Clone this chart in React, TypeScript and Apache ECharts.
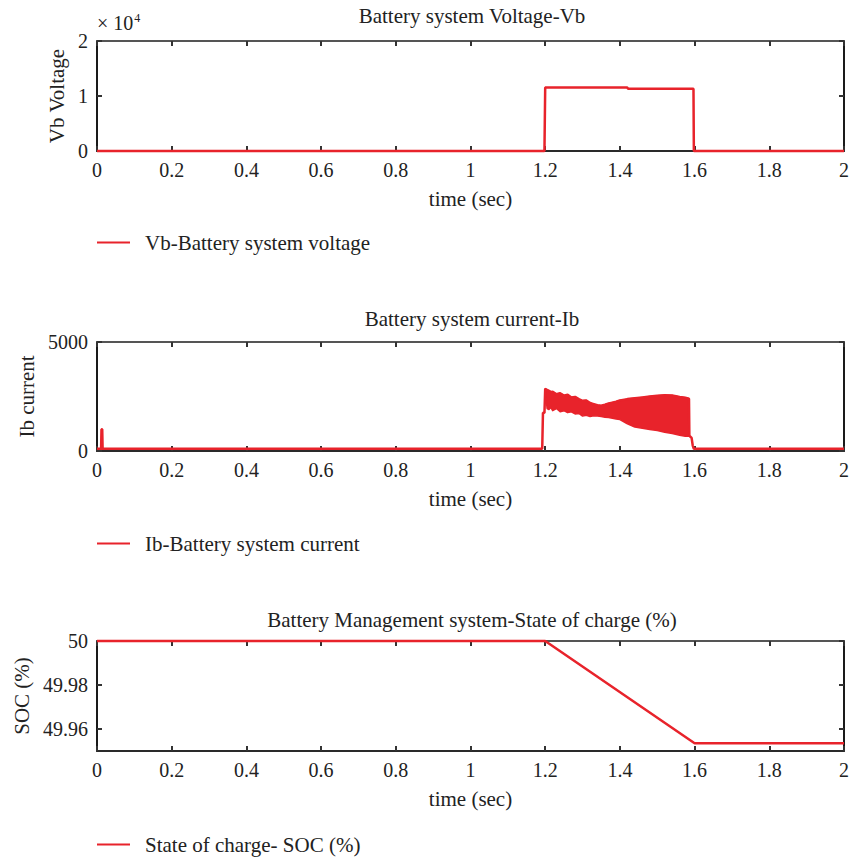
import React, { useEffect, useRef } from "react";
import * as echarts from "echarts";

// ---------- data ----------
const xTicks = [0, 0.2, 0.4, 0.6, 0.8, 1, 1.2, 1.4, 1.6, 1.8, 2];

// Battery system voltage (V)
const vbTime = [0, 1.198, 1.2, 1.42, 1.422, 1.597, 1.598, 2];
const vbValue = [0, 0, 11530, 11530, 11300, 11300, 0, 0];

// Battery system current (A) - outline
const ibPreTime = [0, 0.011, 0.012, 0.014, 0.015, 1.192, 1.194, 1.198, 1.2];
const ibPreValue = [100, 100, 1000, 1000, 100, 100, 1750, 1750, 2850];
const bandTime = [1.2, 1.205, 1.21, 1.215, 1.22, 1.23, 1.24, 1.25, 1.26, 1.27, 1.28, 1.29, 1.3, 1.31, 1.32, 1.33, 1.34, 1.35, 1.36, 1.37, 1.38, 1.39, 1.4, 1.42, 1.44, 1.46, 1.48, 1.5, 1.52, 1.54, 1.56, 1.575, 1.585];
const bandTop = [2850, 2800, 2760, 2700, 2720, 2600, 2650, 2540, 2580, 2450, 2480, 2380, 2300, 2320, 2200, 2150, 2100, 2080, 2120, 2180, 2220, 2260, 2320, 2380, 2420, 2460, 2500, 2530, 2560, 2550, 2480, 2440, 2400];
const bandLow = [2850, 1950, 1900, 2000, 1850, 1950, 1800, 1850, 1760, 1800, 1700, 1720, 1600, 1640, 1580, 1620, 1600, 1580, 1550, 1540, 1500, 1470, 1440, 1250, 1100, 1040, 990, 940, 860, 800, 720, 680, 680];
const ibPostTime = [1.586, 1.592, 1.595, 1.598, 2];
const ibPostValue = [700, 600, 250, 100, 100];

// State of charge (%)
const socTime = [0, 1.2, 1.6, 2];
const socValue = [50, 50, 49.9535, 49.9535];
const socTicks = [49.96, 49.98, 50];

const titles = [
  "Battery system Voltage-Vb",
  "Battery system current-Ib",
  "Battery Management system-State of charge (%)",
];
const legendNames = [
  "Vb-Battery system voltage",
  "Ib-Battery system current",
  "State of charge- SOC (%)",
];

// ---------- style ----------
const RED = "#e8232b";
const FONT = '"Liberation Serif", "DejaVu Serif", serif';
const TXT = "#222";
const PLOT_LEFT = 97;
const PLOT_RIGHT = 5;
const gridTops = [41, 342, 641];
const gridHeights = [110, 109, 110];

const zip = (a: number[], b: number[]) => a.map((v, i) => [v, b[i]]);

function xAxes(gi: number) {
  const common = {
    type: "value",
    gridIndex: gi,
    min: 0,
    max: 2,
    interval: 0.2,
    splitLine: { show: false },
    axisTick: { show: true, inside: true, length: 5, lineStyle: { color: "#333", width: 2 } },
  };
  return [
    {
      ...common,
      position: "bottom",
      name: "time (sec)",
      nameLocation: "middle",
      nameGap: 37,
      nameTextStyle: { fontFamily: FONT, fontSize: 21, color: TXT },
      axisLine: { show: true, onZero: false, lineStyle: { color: "#2a2a2a", width: 2 } },
      axisLabel: {
        fontFamily: FONT,
        fontSize: 20,
        color: TXT,
        margin: 9,
        formatter: (v: number) => String(parseFloat(v.toFixed(1))),
      },
    },
    {
      ...common,
      position: "top",
      axisLine: { show: true, onZero: false, lineStyle: { color: "#555", width: 2 } },
      axisLabel: { show: false },
    },
  ];
}

function yAxes(gi: number, cfg: any) {
  const tick = { show: true, inside: true, length: 5, lineStyle: { color: "#333", width: 2 } };
  const left: any = {
    type: "value",
    gridIndex: gi,
    min: cfg.min,
    max: cfg.max,
    position: "left",
    name: cfg.name,
    nameLocation: "middle",
    nameGap: cfg.nameGap,
    nameTextStyle: { fontFamily: FONT, fontSize: 21, color: TXT },
    splitLine: { show: false },
    axisLine: { show: true, onZero: false, lineStyle: { color: "#1a1a1a", width: 2 } },
    axisTick: { ...tick },
    axisLabel: { fontFamily: FONT, fontSize: 20, color: TXT, margin: 9, formatter: cfg.formatter },
  };
  const right: any = {
    type: "value",
    gridIndex: gi,
    min: cfg.min,
    max: cfg.max,
    position: "right",
    splitLine: { show: false },
    axisLine: { show: true, onZero: false, lineStyle: { color: "#1a1a1a", width: 2 } },
    axisTick: { ...tick },
    axisLabel: { show: false },
  };
  if (cfg.interval !== undefined) {
    left.interval = cfg.interval;
    right.interval = cfg.interval;
  }
  if (cfg.custom) {
    left.axisTick.customValues = cfg.custom;
    left.axisLabel.customValues = cfg.custom;
    right.axisTick.customValues = cfg.custom;
  }
  return [left, right];
}

export default function App() {
  const ref = useRef<HTMLDivElement>(null);

  useEffect(() => {
    if (!ref.current) return;
    const chart = echarts.init(ref.current, undefined, { renderer: "svg" });

    const ibOutline = [
      ...zip(ibPreTime, ibPreValue),
      ...zip(bandTime, bandTop),
      ...zip(ibPostTime, ibPostValue),
    ];

    const lineBase = {
      type: "line",
      showSymbol: false,
      symbol: "none",
      clip: false,
      lineStyle: { color: RED, width: 2.5 },
      itemStyle: { color: RED },
      z: 3,
    };

    const option: any = {
      animation: false,
      backgroundColor: "#ffffff",
      title: titles.map((t, i) => ({
        text: t,
        left: 472,
        top: [5, 308, 609][i],
        textAlign: "center",
        padding: 0,
        textStyle: { fontFamily: FONT, fontSize: 21, fontWeight: "normal", color: TXT },
      })),
      legend: legendNames.map((n, i) => ({
        data: [n],
        left: PLOT_LEFT,
        top: [232, 533, 834][i],
        padding: 0,
        icon: "rect",
        itemWidth: 33,
        itemHeight: 2,
        selectedMode: false,
        textStyle: { fontFamily: FONT, fontSize: 21, color: TXT, padding: [0, 0, 0, 10] },
      })),
      grid: gridTops.map((top, i) => ({
        left: PLOT_LEFT,
        right: PLOT_RIGHT,
        top,
        height: gridHeights[i],
        containLabel: false,
      })),
      xAxis: [...xAxes(0), ...xAxes(1), ...xAxes(2)],
      yAxis: [
        ...yAxes(0, {
          min: 0,
          max: 20000,
          interval: 10000,
          name: "Vb Voltage",
          nameGap: 27,
          formatter: (v: number) => String(v / 10000),
        }),
        ...yAxes(1, {
          min: 0,
          max: 5000,
          interval: 5000,
          name: "Ib current",
          nameGap: 56,
          formatter: (v: number) => String(v),
        }),
        ...yAxes(2, {
          min: 49.95,
          max: 50,
          custom: socTicks,
          name: "SOC (%)",
          nameGap: 65,
          formatter: (v: number) => (Math.abs(v - 50) < 1e-9 ? "50" : v.toFixed(2)),
        }),
      ],
      graphic: [
        {
          type: "text",
          x: 97,
          y: 23,
          style: {
            text: "× 10{s|4}",
            font: `20px ${FONT}`,
            fill: TXT,
            verticalAlign: "middle",
            textVerticalAlign: "middle",
            rich: { s: { fontSize: 12, fontFamily: FONT, fill: TXT, padding: [0, 0, 10, 1] } },
          },
        },
      ],
      series: [
        {
          ...lineBase,
          name: legendNames[0],
          xAxisIndex: 0,
          yAxisIndex: 0,
          data: zip(vbTime, vbValue),
        },
        {
          type: "custom",
          name: "ib-band",
          xAxisIndex: 2,
          yAxisIndex: 2,
          clip: false,
          z: 2,
          data: bandTime.map((t, i) => [t, bandLow[i], bandTop[i]]),
          encode: { x: 0, y: [1, 2] },
          renderItem: (params: any, api: any) => {
            if (params.dataIndex !== 0) return null;
            const pts = [
              ...bandTime.map((t, i) => api.coord([t, bandTop[i]])),
              ...bandTime.map((t, i) => api.coord([t, bandLow[i]])).reverse(),
            ];
            return {
              type: "polygon",
              shape: { points: pts },
              style: { fill: RED, stroke: RED, lineWidth: 1.5, lineJoin: "round" },
            };
          },
        },
        {
          ...lineBase,
          name: legendNames[1],
          xAxisIndex: 2,
          yAxisIndex: 2,
          data: ibOutline,
        },
        {
          ...lineBase,
          name: legendNames[2],
          xAxisIndex: 4,
          yAxisIndex: 4,
          data: zip(socTime, socValue),
        },
      ],
    };

    chart.setOption(option);
    return () => chart.dispose();
  }, []);

  return (
    <div
      ref={ref}
      style={{ position: "absolute", left: 0, top: 0, width: 852, height: 859, background: "#fff" }}
    />
  );
}
